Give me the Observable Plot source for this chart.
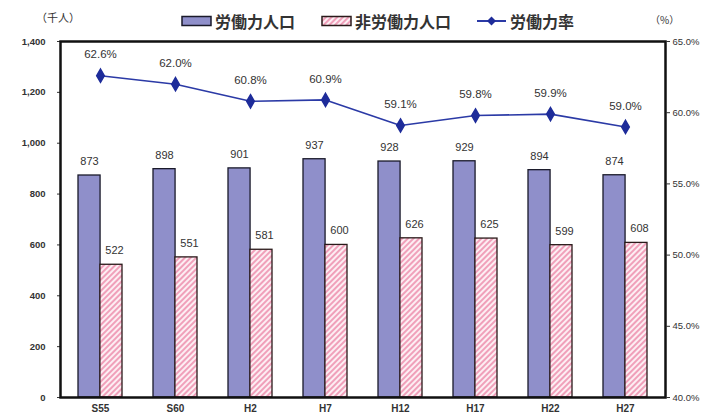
<!DOCTYPE html>
<html><head><meta charset="utf-8">
<script src="https://cdn.jsdelivr.net/npm/d3@7"></script>
<script src="https://cdn.jsdelivr.net/npm/@observablehq/plot@0.6"></script>
<style>
body{margin:0;background:#fff;font-family:"Liberation Sans",Arial,sans-serif;}
#wrap{position:relative;width:707px;height:416px;overflow:hidden;}
#wrap svg.layer{position:absolute;left:0;top:0;}
.lab{position:absolute;font-family:"Noto Sans CJK JP",sans-serif;color:#333;white-space:nowrap;}
.leg{position:absolute;top:9px;display:flex;align-items:center;font-family:"Noto Sans CJK JP",sans-serif;font-weight:bold;font-size:16px;color:#333;white-space:nowrap;}
</style></head>
<body>
<div id="wrap"></div>
<script>
const categories = ["S55","S60","H2","H7","H12","H17","H22","H27"];
const laborForce = [873, 898, 901, 937, 928, 929, 894, 874];
const nonLaborForce = [522, 551, 581, 600, 626, 625, 599, 608];
const laborRate = [62.6, 62.0, 60.8, 60.9, 59.1, 59.8, 59.9, 59.0];
const leftTicks = [0, 200, 400, 600, 800, 1000, 1200, 1400];
const rightTicks = [40, 45, 50, 55, 60, 65];
const seriesNames = ["労働力人口", "非労働力人口", "労働力率"];

const data = categories.map((c, i) => ({cat: c, labor: laborForce[i], non: nonLaborForce[i], rate: laborRate[i]}));

const W = 707, H = 416, mT = 41, mR = 42, mB = 19, mL = 60;
const pInner = 0.42;
const step = (W - mL - mR) / categories.length;
const half = step * (1 - pInner) / 2;
const blue = "#8f8fca", pinkStripe = "#f0a0ba", lineColor = "#2b3aa6";
const font = "Liberation Sans, Arial, sans-serif";
const comma = d3.format(",");

const xOpts = {domain: categories, paddingInner: pInner, paddingOuter: pInner / 2, label: null};

const p1 = Plot.plot({
  width: W, height: H, marginTop: mT, marginRight: mR, marginBottom: mB, marginLeft: mL,
  style: {fontFamily: font, color: "#333"},
  x: xOpts,
  y: {domain: [0, 1400], label: null},
  marks: [
    Plot.barY(data, {x: "cat", y: "labor", fill: blue, stroke: "#1a1a2a", strokeWidth: 1.3, insetRight: half}),
    Plot.barY(data, {x: "cat", y: "non", fill: "url(#hatch)", stroke: "#2a1a1a", strokeWidth: 1.3, insetLeft: half}),
    Plot.text(data, {x: "cat", y: "labor", text: d => String(d.labor), dx: -half / 2, dy: -14, fontSize: 11, fill: "#333"}),
    Plot.text(data, {x: "cat", y: "non", text: d => String(d.non), dx: half / 2 + 3, dy: -14, fontSize: 11, fill: "#333"}),
    Plot.axisY({ticks: leftTicks, tickFormat: comma, tickSize: 3, tickPadding: 12, fontSize: 9.5, fontWeight: "bold", label: null}),
    Plot.axisX({tickSize: 0, tickPadding: 7, fontSize: 10, fontWeight: "bold", label: null}),
    Plot.frame({stroke: "#111", strokeWidth: 2.5})
  ]
});
p1.classList.add("layer");

const defs = d3.select(p1).insert("defs", ":first-child");
const pat = defs.append("pattern").attr("id", "hatch").attr("patternUnits", "userSpaceOnUse")
  .attr("width", 4).attr("height", 4).attr("patternTransform", "rotate(45)");
pat.append("rect").attr("width", 4).attr("height", 4).attr("fill", "#fdeef3");
pat.append("rect").attr("width", 2).attr("height", 4).attr("fill", pinkStripe);

const p2 = Plot.plot({
  width: W, height: H, marginTop: mT, marginRight: mR, marginBottom: mB, marginLeft: mL,
  style: {fontFamily: font, color: "#333", background: "transparent"},
  x: {...xOpts, axis: null},
  y: {domain: [40, 65], label: null},
  marks: [
    Plot.axisY({anchor: "right", ticks: rightTicks, tickFormat: d => d.toFixed(1) + "%", tickSize: 4, tickPadding: 3, fontSize: 9.5, label: null}),
    Plot.line(data, {x: "cat", y: "rate", stroke: lineColor, strokeWidth: 1.6}),
    Plot.dot(data, {x: "cat", y: "rate", symbol: "diamond", fill: "#1e2c9a", stroke: "#1e2c9a", r: 4}),
    Plot.text(data, {x: "cat", y: "rate", text: d => d.rate.toFixed(1) + "%", dy: -21, fontSize: 11.5, fill: "#333"})
  ]
});
p2.classList.add("layer");
p2.style.background = "transparent";

const wrap = document.getElementById("wrap");
wrap.appendChild(p1);
wrap.appendChild(p2);

const u1 = document.createElement("div");
u1.className = "lab"; u1.style.left = "36px"; u1.style.top = "9px"; u1.style.fontSize = "11px";
u1.textContent = "（千人）";
wrap.appendChild(u1);
const u2 = document.createElement("div");
u2.className = "lab"; u2.style.left = "650px"; u2.style.top = "12px"; u2.style.fontSize = "10px";
u2.textContent = "（%）";
wrap.appendChild(u2);

const legendItems = [
  {x: 181, name: seriesNames[0], sw: `<svg width="32" height="12"><rect x="1" y="1.5" width="29" height="9" fill="${blue}" stroke="#1a1a2a" stroke-width="1.5"/></svg>`},
  {x: 321, name: seriesNames[1], sw: `<svg width="32" height="12"><defs><pattern id="hatchL" patternUnits="userSpaceOnUse" width="4" height="4" patternTransform="rotate(45)"><rect width="4" height="4" fill="#fdeef3"/><rect width="2" height="4" fill="${pinkStripe}"/></pattern></defs><rect x="1" y="1.5" width="29" height="9" fill="url(#hatchL)" stroke="#2a1a1a" stroke-width="1.5"/></svg>`},
  {x: 476, name: seriesNames[2], sw: `<svg width="32" height="12"><line x1="1" y1="6" x2="30" y2="6" stroke="${lineColor}" stroke-width="2"/><path d="M15.5 1.5 L20 6 L15.5 10.5 L11 6 Z" fill="#1e2c9a"/></svg>`}
];
for (const it of legendItems) {
  const d = document.createElement("div");
  d.className = "leg"; d.style.left = it.x + "px";
  d.innerHTML = it.sw + `<span style="margin-left:2px">${it.name}</span>`;
  wrap.appendChild(d);
}
</script>
</body></html>
